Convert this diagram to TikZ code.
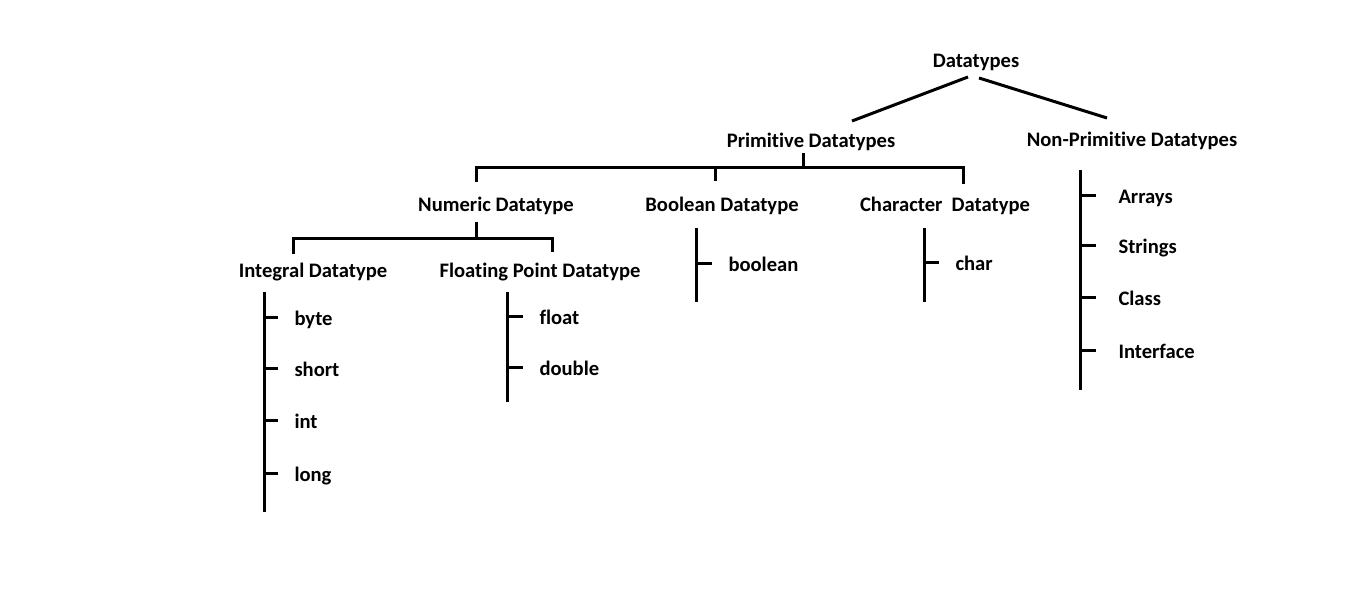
\documentclass[tikz,border=0pt]{standalone}
\usepackage{fontspec}
\setmainfont{Carlito}[Ligatures=NoCommon]
\begin{document}
\begin{tikzpicture}[x=0.5pt,y=-0.5pt,line width=1.5pt,
  lbl/.style={font=\bfseries\fontsize{10.3}{12}\selectfont,inner sep=0pt,text height=8.5pt,text depth=0.5pt},
  item/.style={lbl,anchor=west,inner xsep=7.5pt}]
\useasboundingbox (0,0) rectangle (1360,613);
\node[lbl] (root) at (976,60) {Datatypes};
\node[lbl] (prim) at (811,140) {Primitive Datatypes};
\node[lbl] (nonPrim) at (1132,139) {Non-Primitive Datatypes};
\node[lbl] (numeric) at (496,204) {Numeric Datatype};
\node[lbl] (boolean) at (722,204) {Boolean Datatype};
\node[lbl] (character) at (945,204) {Character\ \ Datatype};
\node[lbl] (integral) at (313,270) {Integral Datatype};
\node[lbl] (floating) at (540,270) {Floating Point Datatype};
\coordinate (rootL) at (968,77);
\coordinate (primTip) at (852,121);
\coordinate (rootR) at (979,78);
\coordinate (nonPrimTip) at (1107,118);
\draw (rootL)--(primTip);
\draw (rootR)--(nonPrimTip);
\coordinate (primStub) at (803,153);
\coordinate (primBar) at (803,168);
\coordinate (numStub) at (476,182);
\coordinate (boolStub) at (715,181);
\coordinate (charStub) at (963,184);
\draw (primStub)--(primBar);
\draw (numStub) |- (primBar) -| (charStub);
\draw (boolStub)--(boolStub |- primBar);
\coordinate (numTop) at (476,222);
\coordinate (numBar) at (476,239);
\coordinate (intStub) at (293,254);
\coordinate (floatStub) at (552,252);
\draw (numTop)--(numBar);
\draw (intStub) |- (numBar) -| (floatStub);
\coordinate (intTop) at (264,292);
\coordinate (intEnd) at (264,512);
\draw (intTop)--(intEnd);
\node[item] (byte) at (278,318) {byte};
\node[item] (short) at (278,369) {short};
\node[item] (int) at (278,421) {int};
\node[item] (long) at (278,474) {long};
\draw (intTop |- byte.west)--(byte.west);
\draw (intTop |- short.west)--(short.west);
\draw (intTop |- int.west)--(int.west);
\draw (intTop |- long.west)--(long.west);
\coordinate (floatTop) at (507,292);
\coordinate (floatEnd) at (507,402);
\draw (floatTop)--(floatEnd);
\node[item] (float) at (523,317) {float};
\node[item] (double) at (523,368) {double};
\draw (floatTop |- float.west)--(float.west);
\draw (floatTop |- double.west)--(double.west);
\coordinate (boolTop) at (696,228);
\coordinate (boolEnd) at (696,302);
\draw (boolTop)--(boolEnd);
\node[item] (bool) at (712,264) {boolean};
\draw (boolTop |- bool.west)--(bool.west);
\coordinate (charTop) at (924,228);
\coordinate (charEnd) at (924,302);
\draw (charTop)--(charEnd);
\node[item] (char) at (939,263) {char};
\draw (charTop |- char.west)--(char.west);
\coordinate (nonPrimTop) at (1080,170);
\coordinate (nonPrimEnd) at (1080,390);
\draw (nonPrimTop)--(nonPrimEnd);
\node[item,inner xsep=10.5pt] (arrays) at (1096,196) {Arrays};
\node[item,inner xsep=10.5pt] (strings) at (1096,246) {Strings};
\node[item,inner xsep=10.5pt] (class) at (1096,298) {Class};
\node[item,inner xsep=10.5pt] (interface) at (1096,351) {Interface};
\draw (nonPrimTop |- arrays.west)--(arrays.west);
\draw (nonPrimTop |- strings.west)--(strings.west);
\draw (nonPrimTop |- class.west)--(class.west);
\draw (nonPrimTop |- interface.west)--(interface.west);
\end{tikzpicture}
\end{document}
